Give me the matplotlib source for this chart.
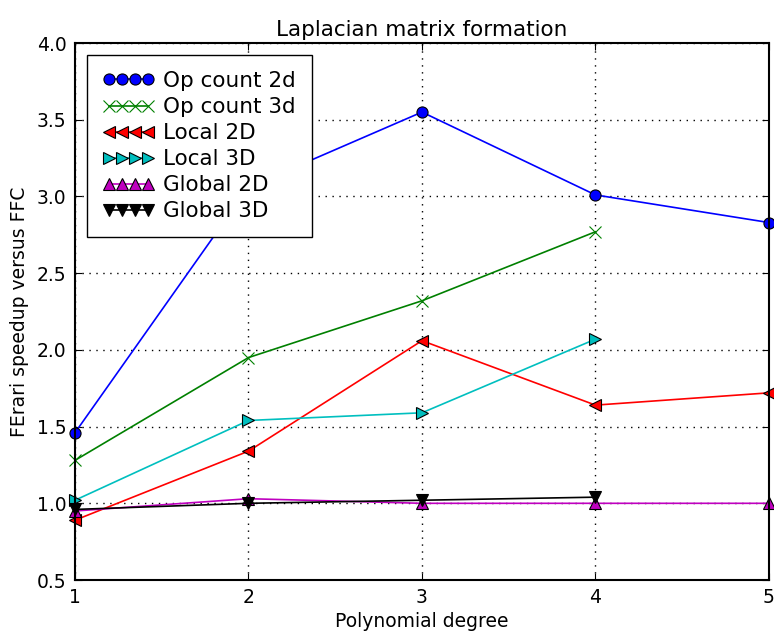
import numpy as np
import matplotlib
matplotlib.use("Agg")
from matplotlib import pyplot as plt

# polynomial degree vs FErari speedup over FFC
degree = [1, 2, 3, 4, 5]
op_count_2d = [1.46, 3.06, 3.55, 3.01, 2.83]
op_count_3d = [1.28, 1.95, 2.32, 2.77]
local_2d = [0.89, 1.34, 2.06, 1.64, 1.72]
local_3d = [1.02, 1.54, 1.59, 2.07]
global_2d = [0.95, 1.03, 1.00, 1.00, 1.00]
global_3d = [0.96, 1.00, 1.02, 1.04]

plt.rcParams['font.family'] = ['DejaVu Sans']
fig = plt.figure(figsize=(7.74, 6.33), dpi=100)
ax = fig.add_axes([0.0969, 0.0837, 0.8966, 0.8483])

series = [
    (op_count_2d, 'bo-', 'Op count 2d'),
    (op_count_3d, 'gx-', 'Op count 3d'),
    (local_2d, 'r<-', 'Local 2D'),
    (local_3d, 'c>-', 'Local 3D'),
    (global_2d, 'm^-', 'Global 2D'),
    (global_3d, 'kv-', 'Global 3D'),
]
for vals, fmt, lab in series:
    ax.plot(degree[:len(vals)], vals, fmt, label=lab, lw=1.2, ms=8,
            mec='k' if fmt[1] != 'x' else 'g', mew=0.8, clip_on=False)

ax.set_xlim(1, 5)
ax.set_ylim(0.5, 4.0)
ax.set_xticks(degree)
ax.set_yticks(np.arange(0.5, 4.01, 0.5))
ax.yaxis.set_major_formatter(matplotlib.ticker.FormatStrFormatter('%.1f'))
ax.grid(True, color='k', linestyle=(0, (1, 4)), linewidth=1.0)
ax.tick_params(direction='in', top=True, right=True, length=5, labelsize=13.5,
               pad=6)
for s in ax.spines.values():
    s.set_linewidth(1.5)

ax.set_xlabel('Polynomial degree', fontsize=13.5, labelpad=3)
ax.set_ylabel('FErari speedup versus FFC', fontsize=13.5, labelpad=6)
ax.set_title('Laplacian matrix formation', fontsize=15.5, pad=5)

leg = ax.legend(loc='upper left', numpoints=4, fontsize=15.5, fancybox=False,
                framealpha=1, edgecolor='k', handlelength=2.4,
                borderpad=0.75, labelspacing=0.28, handletextpad=0.4,
                borderaxespad=0.55)
leg.get_frame().set_linewidth(1.0)

fig.savefig('out.png', dpi=100)
